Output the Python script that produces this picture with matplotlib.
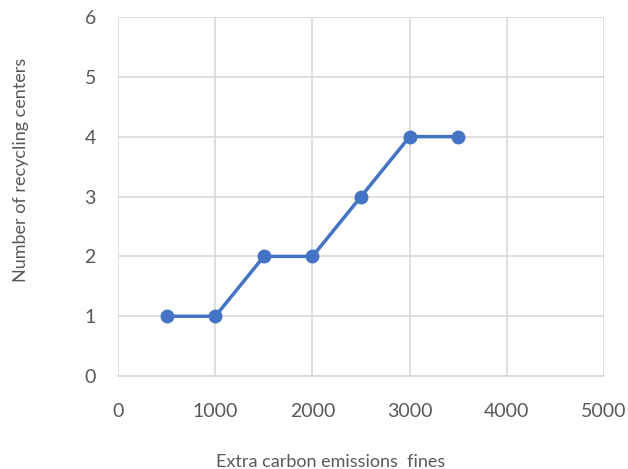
import matplotlib
matplotlib.use("Agg")
import matplotlib.pyplot as plt

plt.rcParams['font.family'] = ['Lato', 'DejaVu Sans']

# fines (x) against number of recycling centers (y)
fines = [500, 1000, 1500, 2000, 2500, 3000, 3500]
centers = [1, 1, 2, 2, 3, 4, 4]

x_ticks = [0, 1000, 2000, 3000, 4000, 5000]
y_ticks = [0, 1, 2, 3, 4, 5, 6]

blue = '#4472C4'
grid = '#d9d9d9'
text = '#595959'

fig = plt.figure(figsize=(6.28, 4.69), dpi=100)
ax = fig.add_axes([0.188, 0.198, 0.774, 0.766])

ax.plot(fines, centers, color=blue, linewidth=2.5, marker='o',
        markersize=9, zorder=3, clip_on=False)

ax.set_xlim(0, 5000)
ax.set_ylim(0, 6)
ax.set_xticks(x_ticks)
ax.set_yticks(y_ticks)
ax.grid(True, color=grid, linewidth=1.2)
ax.set_axisbelow(True)

for side in ['top', 'right', 'left']:
    ax.spines[side].set_visible(False)
ax.spines['bottom'].set_color(grid)
ax.spines['bottom'].set_linewidth(1.2)

ax.tick_params(length=0, labelsize=14, colors=text, pad=19)
ax.tick_params(axis='y', pad=16)

# axis titles sit a little off the plot centre
fig.text(331 / 628, 1 - 462 / 469, 'Extra carbon emissions  fines',
         fontsize=13, color=text, ha='center', va='center')
fig.text(21 / 628, 1 - 170 / 469, 'Number of recycling centers',
         fontsize=13, color=text, ha='center', va='center', rotation=90)

fig.savefig('out.png', dpi=100)
